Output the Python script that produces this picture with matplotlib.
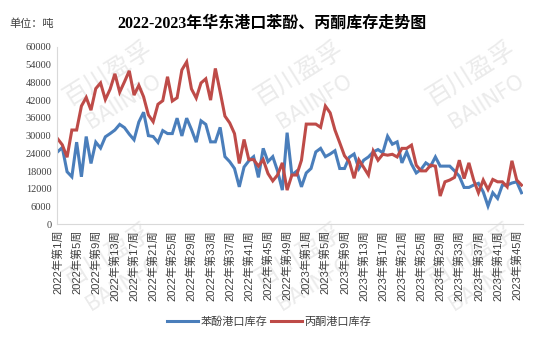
import matplotlib
matplotlib.use("Agg")
import matplotlib.pyplot as plt

# 每周港口库存（吨），2022年第1周 - 2023年第46周
weeks_2022 = 52
weeks_2023 = 46

phenol = [
    24500, 26000, 17800, 16100, 27800, 16100, 29700, 20600, 27800, 25800,
    29600, 30700, 31900, 33800, 32700, 30500, 28600, 34600, 37900, 30000,
    29700, 27700, 31700, 30700, 30700, 35900, 29900, 35900, 32100, 27800,
    35000, 33800, 27900, 27900, 32800, 22900, 21200, 18900, 12700, 19400,
    21500, 22900, 15900, 25700, 21200, 22900, 18100, 11600, 31000, 16700,
    18000, 12700,
    17400, 18900, 24500, 25700, 22900, 23800, 24900, 18900, 18900, 22700,
    23800, 18900, 21700, 22800, 24500, 25300, 24200, 29800, 27100, 27900,
    20800, 24500, 20400, 17400, 18600, 20800, 19700, 22800, 19700, 19700,
    19700, 18100, 16300, 12500, 12500, 13300, 13900, 11000, 6200, 10700,
    8800, 13300, 13300, 14000, 14400, 10700,
]

acetone = [
    29000, 26900, 22700, 31900, 31900, 40000, 42900, 38600, 45900, 47800,
    42200, 45700, 50900, 44700, 48200, 51900, 43700, 47000, 43100, 37000,
    34700, 40600, 41800, 49900, 41700, 42800, 52200, 54900, 45800, 42700,
    47800, 49200, 42000, 52700, 44800, 36600, 34300, 30700, 20600, 28700,
    21900, 21900, 19700, 21900, 17200, 14700, 16700, 20800, 11600, 16700,
    16700, 21700,
    33900, 33900, 33900, 32800, 40000, 37700, 31900, 27600, 23200, 21200,
    15600, 21800, 19300, 16700, 24800, 21700, 23700, 23400, 23700, 22800,
    25700, 25700, 26800, 20000, 18100, 18100, 20000, 19700, 9600, 14400,
    15000, 15900, 21700, 15500, 20800, 15000, 10700, 15000, 11800, 15200,
    14400, 14400, 12700, 21500, 15000, 13300,
]

week_labels = ([f"2022年第{w}周" for w in range(1, weeks_2022 + 1)] +
               [f"2023年第{w}周" for w in range(1, weeks_2023 + 1)])

blue = "#4a7ebb"
red = "#be4b48"
cn_sans = ["Liberation Sans", "Noto Sans CJK SC"]
cn_serif = ["Liberation Serif", "Noto Sans CJK SC"]

fig = plt.figure(figsize=(5.38, 3.37), dpi=100)
ax = fig.add_axes([0.106, 0.334, 0.866, 0.527])
ax.patch.set_alpha(0)

x = list(range(len(week_labels)))
ax.plot(x, phenol, color=blue, lw=2.2, label="苯酚港口库存", solid_joinstyle="miter")
ax.plot(x, acetone, color=red, lw=2.2, label="丙酮港口库存", solid_joinstyle="miter")

ax.set_xlim(-0.1, len(x) - 0.7)
ax.set_ylim(0, 60000)
ax.set_yticks(range(0, 60001, 6000))
ax.set_yticklabels([str(v) for v in range(0, 60001, 6000)],
                   family=cn_serif, fontsize=7.5, color="#404040")
ax.set_xticks(x[::4])
ax.set_xticklabels(week_labels[::4], rotation=90, family=cn_sans,
                   fontsize=8, color="#404040", va="top", ha="center")
ax.tick_params(length=0, pad=4)

for s in ["top", "right"]:
    ax.spines[s].set_visible(False)
for s in ["left", "bottom"]:
    ax.spines[s].set_color("#d9d9d9")
    ax.spines[s].set_linewidth(0.8)

fig.text(0.505, 0.93, "2022-2023年华东港口苯酚、丙酮库存走势图", ha="center", va="center",
         family=cn_serif, fontsize=11.5, fontweight="bold", color="black")
fig.text(0.018, 0.93, "单位：吨", ha="left", va="center",
         family=cn_sans, fontsize=8, color="#404040")

# 水印
for cx in [0.2, 0.555, 0.875]:
    for cy in [0.76, 0.22]:
        fig.text(cx, cy + 0.02, "百川盈孚", ha="center", va="center", rotation=32,
                 fontsize=18, color="#ebebeb", family="Noto Sans CJK SC", zorder=-1)
        fig.text(cx + 0.03, cy - 0.06, "BAIINFO", ha="center", va="center", rotation=32,
                 fontsize=15, color="#ebebeb", family="DejaVu Sans", zorder=-1)

fig.legend(loc="lower center", bbox_to_anchor=(0.5, 0.0), ncol=2, frameon=False,
           prop={"family": cn_sans, "size": 8}, handlelength=2.8,
           handletextpad=0.2, columnspacing=0.3, labelcolor="#404040")

fig.savefig("out.png", dpi=100)
